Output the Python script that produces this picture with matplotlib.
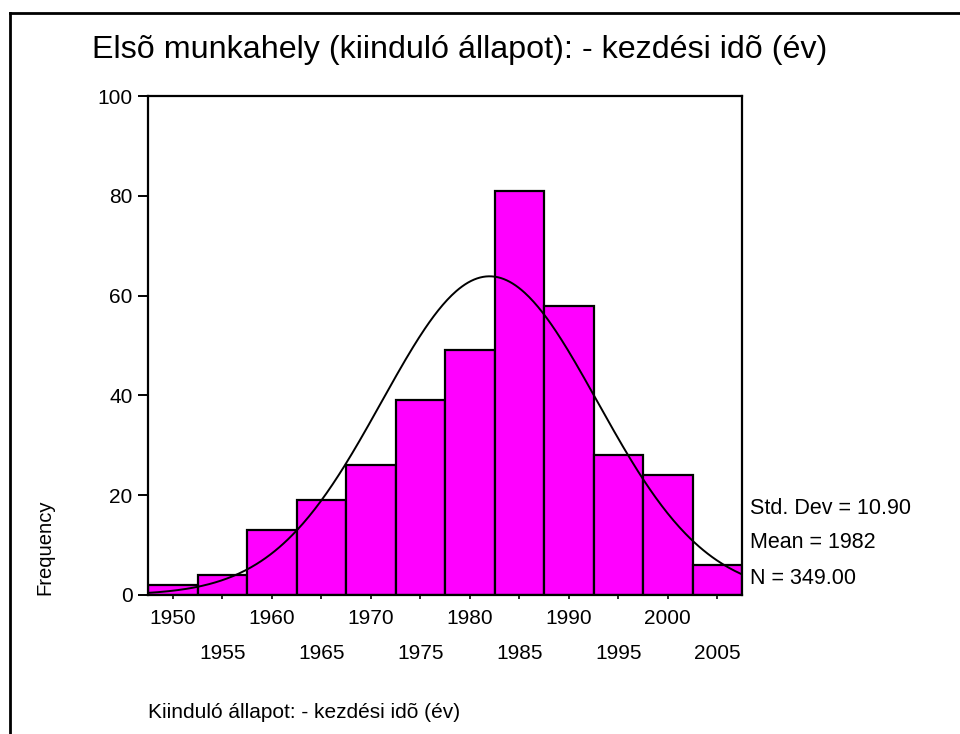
import numpy as np
import matplotlib
matplotlib.use("Agg")
import matplotlib.pyplot as plt
from matplotlib.lines import Line2D

plt.rcParams['font.family'] = ['Liberation Sans', 'DejaVu Sans']

# Data
bin_centers = [1950, 1955, 1960, 1965, 1970, 1975, 1980, 1985, 1990, 1995, 2000, 2005]
frequencies = [2, 4, 13, 19, 26, 39, 49, 81, 58, 28, 24, 6]
bin_width = 5
std_dev = 10.90
mean = 1982
n_total = 349.00
title = "Elsõ munkahely (kiinduló állapot): - kezdési idõ (év)"
xlabel = "Kiinduló állapot: - kezdési idõ (év)"
ylabel = "Frequency"
yticks = [0, 20, 40, 60, 80, 100]

fig = plt.figure(figsize=(9.6, 7.34), dpi=100)
ax = fig.add_axes([148/960, 1-595/734, 594/960, 499/734])

ax.bar(bin_centers, frequencies, width=bin_width, color='#FF00FF',
       edgecolor='black', linewidth=1.6, zorder=2)

xs = np.linspace(bin_centers[0]-bin_width/2, bin_centers[-1]+bin_width/2, 400)
ys = n_total*bin_width/(std_dev*np.sqrt(2*np.pi))*np.exp(-0.5*((xs-mean)/std_dev)**2)
ax.plot(xs, ys, color='black', lw=1.4, zorder=3)

ax.set_xlim(bin_centers[0]-bin_width/2, bin_centers[-1]+bin_width/2)
ax.set_ylim(0, 100)
for s in ax.spines.values():
    s.set_linewidth(1.6)

ax.set_yticks(yticks)
ax.set_yticklabels([str(v) for v in yticks])
ax.tick_params(axis='y', direction='out', length=7, width=1.4, labelsize=15, pad=4)

major = bin_centers[0::2]
minor = bin_centers[1::2]
ax.set_xticks(major)
ax.set_xticklabels([str(v) for v in major])
ax.set_xticks(minor, minor=True)
ax.set_xticklabels([str(v) for v in minor], minor=True)
ax.tick_params(axis='x', which='major', direction='out', length=3, width=1.2, labelsize=15, pad=7)
ax.tick_params(axis='x', which='minor', direction='out', length=3, width=1.2, labelsize=15, pad=32)

fig.text(92/960, 1-50/734, title, fontsize=23.2, ha='left', va='center')
fig.text(45/960, 1-547/734, ylabel, fontsize=14.6, rotation=90, ha='center', va='center')
fig.text(148/960, 1-712/734, xlabel, fontsize=15, ha='left', va='center')

stats = ["Std. Dev = %.2f" % std_dev, "Mean = %d" % mean, "N = %.2f" % n_total]
for i, s in enumerate(stats):
    fig.text(750/960, 1-(508+35*i)/734, s, fontsize=15.5, ha='left', va='center')

# outer frame
fig.add_artist(Line2D([10/960, 10/960], [0, 1-13/734], color='black', lw=2, transform=fig.transFigure))
fig.add_artist(Line2D([10/960, 1], [1-13/734, 1-13/734], color='black', lw=2, transform=fig.transFigure))

fig.savefig("out.png", dpi=100)
